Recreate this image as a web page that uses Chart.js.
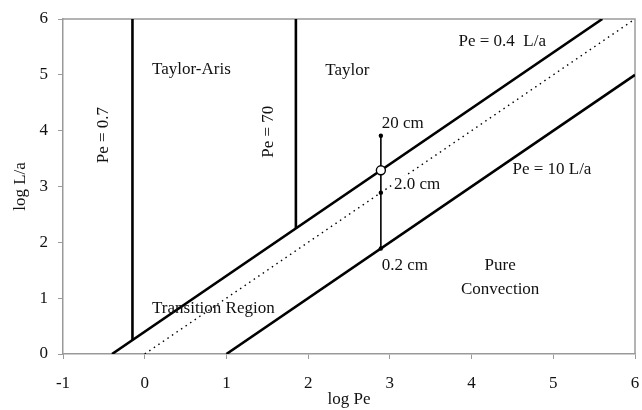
<!DOCTYPE html>
<html>
<head>
<meta charset="utf-8">
<script src="https://cdn.jsdelivr.net/npm/chart.js@4"></script>
<style>
  html, body { margin:0; padding:0; background:#fff; }
  #wrap { width:642px; height:410px; }
</style>
</head>
<body>
<div id="wrap"><canvas id="chart" width="642" height="410"></canvas></div>
<script>
// axis ticks
const xTicks = [-1, 0, 1, 2, 3, 4, 5, 6];
const yTicks = [0, 1, 2, 3, 4, 5, 6];

// boundary lines (log Pe, log L/a)
const pe07Line   = [{x:-0.15, y:0.25}, {x:-0.15, y:6}];
const pe70Line   = [{x:1.85, y:2.25}, {x:1.85, y:6}];
const pe04Line   = [{x:-0.4, y:0}, {x:5.6, y:6}];
const peUnitLine = [{x:0, y:0}, {x:6, y:6}];
const pe10Line   = [{x:1, y:0}, {x:6, y:5}];

// column lengths 0.2 / 2.0 / 20 cm
const columnPts  = [{x:2.89, y:1.89}, {x:2.89, y:2.89}, {x:2.89, y:3.91}];
const crossPt    = [{x:2.89, y:3.29}];

// region / line labels: [text, x, y, align, rotated, whiteBg]
const labels = [
  ['Taylor-Aris',       0.09, 5.09, 'left',   false, false],
  ['Taylor',            2.21, 5.07, 'left',   false, false],
  ['Pe = 0.7',         -0.51, 3.92, 'center', true,  false],
  ['Pe = 70',           1.51, 3.98, 'center', true,  false],
  ['Pe = 0.4  L/a',     3.84, 5.59, 'left',   false, false],
  ['20 cm',             2.9,  4.12, 'left',   false, false],
  ['2.0 cm',            3.05, 3.03, 'left',   false, true],
  ['Pe = 10 L/a',       4.5,  3.31, 'left',   false, false],
  ['0.2 cm',            2.9,  1.58, 'left',   false, false],
  ['Pure',              4.35, 1.59, 'center', false, false],
  ['Convection',        4.35, 1.16, 'center', false, false],
  ['Transition Region', 0.09, 0.81, 'left',   false, false],
];

const FONT = '"Liberation Serif", "Times New Roman", serif';
const AXIS = '#9a9a9a';

const labelPlugin = {
  id: 'labels',
  beforeDatasetsDraw(chart) {
    const { ctx, chartArea: a } = chart;
    ctx.save();
    ctx.strokeStyle = AXIS;
    ctx.lineWidth = 1.5;
    ctx.beginPath();
    ctx.moveTo(a.left, a.top); ctx.lineTo(a.right, a.top); ctx.lineTo(a.right, a.bottom);
    ctx.stroke();
    ctx.restore();
  },
  afterDatasetsDraw(chart) {
    const { ctx, scales: { x, y } } = chart;
    ctx.save();
    ctx.font = '17px ' + FONT;
    ctx.fillStyle = '#111';
    ctx.textBaseline = 'middle';
    labels.forEach(([t, vx, vy, align, rot, bg]) => {
      const px = x.getPixelForValue(vx), py = y.getPixelForValue(vy);
      ctx.save();
      ctx.translate(px, py);
      if (rot) ctx.rotate(-Math.PI / 2);
      ctx.textAlign = align;
      if (bg) {
        const w = ctx.measureText(t).width;
        ctx.fillStyle = '#fff';
        ctx.fillRect(align === 'left' ? -2 : -w / 2 - 2, -9, w + 4, 18);
        ctx.fillStyle = '#111';
      }
      ctx.fillText(t, 0, 0);
      ctx.restore();
    });
    ctx.restore();
  }
};

const line = (data, extra) => Object.assign({
  data, showLine: true, borderColor: '#000', borderWidth: 2.6,
  pointRadius: 0, fill: false, tension: 0
}, extra);

new Chart(document.getElementById('chart').getContext('2d'), {
  type: 'scatter',
  data: {
    datasets: [
      // open circle first so it sits on top of the lines
      { data: crossPt, pointRadius: 4.5, pointBackgroundColor: '#fff', pointBorderColor: '#000', pointBorderWidth: 1.4, showLine: false },
      line(pe04Line),
      line(columnPts, { borderWidth: 1.6, pointRadius: 2.2, pointBackgroundColor: '#000', pointBorderWidth: 0 }),
      line(pe07Line),
      line(pe70Line),
      line(pe10Line),
      line(peUnitLine, { borderWidth: 1.4, borderDash: [1.5, 4] }),
    ]
  },
  options: {
    responsive: false,
    animation: false,
    layout: { padding: { top: 19, right: 7, left: 0, bottom: 0 } },
    plugins: { legend: { display: false }, tooltip: { enabled: false } },
    scales: {
      x: {
        type: 'linear', min: xTicks[0], max: xTicks[xTicks.length - 1],
        afterBuildTicks: s => { s.ticks = xTicks.map(v => ({ value: v })); },
        afterFit: s => { s.height = 56; s.paddingRight = 0; s.paddingLeft = 0; },
        grid: { drawOnChartArea: false, drawTicks: true, tickLength: 5, color: AXIS },
        border: { color: AXIS, width: 1.5 },
        ticks: { color: '#111', font: { family: FONT, size: 17 }, padding: 14 },
        title: { display: true, text: 'log Pe', color: '#111', font: { family: FONT, size: 17 }, padding: { top: -6, bottom: 0 } }
      },
      y: {
        type: 'linear', min: yTicks[0], max: yTicks[yTicks.length - 1],
        afterBuildTicks: s => { s.ticks = yTicks.map(v => ({ value: v })); },
        afterFit: s => { s.width = 63; s.paddingTop = 0; s.paddingBottom = 0; },
        grid: { drawOnChartArea: false, drawTicks: true, tickLength: 5, color: AXIS },
        border: { color: AXIS, width: 1.5 },
        ticks: { color: '#111', font: { family: FONT, size: 17 }, padding: 10 },
        title: { display: true, text: 'log L/a', color: '#111', font: { family: FONT, size: 17 }, padding: { top: 10, bottom: 0 } }
      }
    }
  },
  plugins: [labelPlugin]
});
</script>
</body>
</html>
